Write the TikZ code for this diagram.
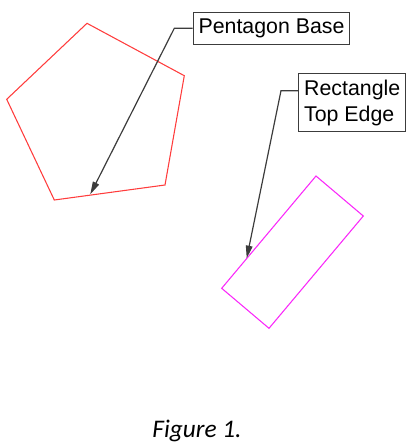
\documentclass[tikz,border=0pt]{standalone}
\usepackage{fontspec}
\setmainfont{Liberation Sans}
\newfontfamily\capfont{Carlito}
\usetikzlibrary{arrows.meta}

\definecolor{pentred}{RGB}{255,60,60}
\definecolor{rectmag}{RGB}{250,40,250}
\definecolor{leadgray}{RGB}{60,60,60}

\tikzset{
  label box/.style={draw=leadgray, line width=0.8pt, fill=white, inner xsep=4pt,
    inner ysep=3pt, font=\fontsize{16pt}{19.3pt}\selectfont},
  leader/.style={leadgray, line width=0.9pt, -{Triangle[length=9.5pt, width=5pt]}}
}

\begin{document}
\begin{tikzpicture}[x=0.75pt, y=-0.75pt]
              \useasboundingbox (0, 0) rectangle (417, 446);

              % the two shapes
              \draw [pentred, line width=0.8pt] (87, 23.3) -- (184.3, 75.7) -- (165, 185)
                -- (54.3, 200) -- (6.7, 99.3) -- cycle;
              \draw [rectmag, line width=0.8pt] (316, 176) -- (363.3, 216) -- (269, 328.3)
                -- (221.7, 288.3) -- cycle;

              % callouts
              \node [label box, anchor=west, minimum height=24pt] (pbox) at (192.7, 28.3) {Pentagon Base};
              \node [label box, anchor=north west, align=left, inner ysep=4.5pt] (rbox) at (298.3, 73.3) {Rectangle\\Top Edge};

              \coordinate (pbend) at (174.3, 28.3);
              \coordinate (ptip) at (90.3, 194.3);
              \coordinate (rbend) at (281, 90.7);
              \coordinate (rtip) at (246.7, 258.3);

              \draw [leader] (pbox.west) -- (pbend) -- (ptip);
              \draw [leader] (rbox.west |- rbend) -- (rbend) -- (rtip);

              \node [font=\capfont\itshape\fontsize{19pt}{22pt}\selectfont, anchor=base] (caption) at (197, 437) {Figure 1.};
            \end{tikzpicture}
\end{document}
